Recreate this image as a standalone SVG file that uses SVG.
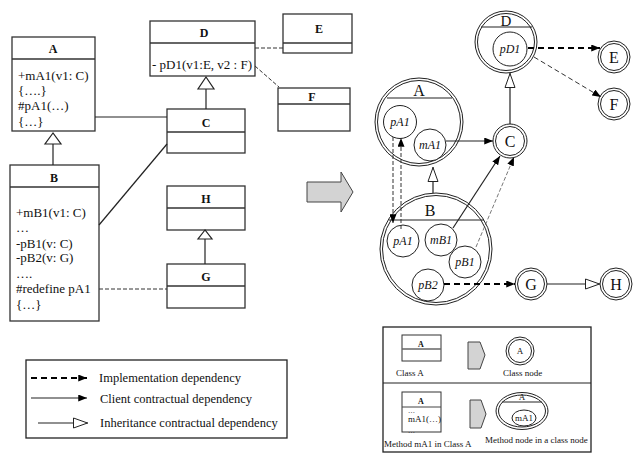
<svg xmlns="http://www.w3.org/2000/svg" width="635" height="462" viewBox="0 0 635 462">
<style>
text{font-family:"Liberation Serif","Times New Roman",serif;fill:#111}
.box{fill:#fff;stroke:#333;stroke-width:1.3}
.dv{stroke:#333;stroke-width:1.3}
.t{font-size:13px}
.b{font-size:12px;font-weight:bold;text-anchor:middle}
.ln{stroke:#222;stroke-width:1.2;fill:none}
.dsh{stroke:#333;stroke-width:1;stroke-dasharray:4 2;fill:none}
.c{fill:#fff;stroke:#222;stroke-width:1}
.cn{fill:none;stroke:#222;stroke-width:1}
.big{font-size:16px;text-anchor:middle}
.it{font-size:12px;font-style:italic;text-anchor:middle}
.impl{stroke:#000;stroke-width:2;stroke-dasharray:6 4;fill:none}
.tri{fill:#fff;stroke:#222;stroke-width:1.2}
.lg{font-size:12.5px}
.sm{font-size:9px}
.gray{fill:#d3d3d3;stroke:#444;stroke-width:1}
</style>
<defs>
<marker id="ah" viewBox="0 0 10 8" refX="10" refY="4" markerWidth="9" markerHeight="7" markerUnits="userSpaceOnUse" orient="auto"><path d="M0,0L10,4L0,8z" fill="#000"/></marker>
<marker id="tri" viewBox="0 0 16 12" refX="15.5" refY="6" markerWidth="16" markerHeight="12" markerUnits="userSpaceOnUse" orient="auto"><path d="M1,1L15,6L1,11z" fill="#fff" stroke="#222"/></marker>
</defs>

<!-- Left UML classes -->
<g id="classA">
<rect class="box" x="12" y="37" width="83" height="94"/>
<line class="dv" x1="12" y1="59" x2="95" y2="59"/>
<text class="b" x="53" y="53">A</text>
<text class="t" x="18" y="80">+mA1(v1: C)</text>
<text class="t" x="18" y="95">{….}</text>
<text class="t" x="18" y="110">#pA1(…)</text>
<text class="t" x="18" y="126">{…}</text>
</g>
<g id="classB">
<rect class="box" x="10" y="165" width="89" height="156"/>
<line class="dv" x1="10" y1="187" x2="99" y2="187"/>
<text class="b" x="54" y="182">B</text>
<text class="t" x="16" y="217">+mB1(v1: C)</text>
<text class="t" x="16" y="232">…</text>
<text class="t" x="16" y="248">-pB1(v: C)</text>
<text class="t" x="16" y="262">-pB2(v: G)</text>
<text class="t" x="16" y="278">….</text>
<text class="t" x="16" y="293">#redefine pA1</text>
<text class="t" x="16" y="309">{…}</text>
</g>
<g id="classC">
<rect class="box" x="167" y="109" width="78" height="44"/>
<line class="dv" x1="167" y1="132" x2="245" y2="132"/>
<text class="b" x="206" y="127">C</text>
</g>
<g id="classD">
<rect class="box" x="150" y="21" width="105" height="55"/>
<line class="dv" x1="150" y1="43" x2="255" y2="43"/>
<text class="b" x="204" y="37">D</text>
<text class="t" x="152" y="69">- pD1(v1:E, v2 : F)</text>
</g>
<g id="classE">
<rect class="box" x="283" y="14" width="69" height="39"/>
<line class="dv" x1="283" y1="43" x2="352" y2="43"/>
<text class="b" x="319" y="33">E</text>
</g>
<g id="classF">
<rect class="box" x="278" y="88" width="72" height="43"/>
<line class="dv" x1="278" y1="104" x2="350" y2="104"/>
<text class="b" x="312" y="101">F</text>
</g>
<g id="classH">
<rect class="box" x="167" y="186" width="78" height="44"/>
<line class="dv" x1="167" y1="208" x2="245" y2="208"/>
<text class="b" x="206" y="203">H</text>
</g>
<g id="classG">
<rect class="box" x="167" y="264" width="78" height="44"/>
<line class="dv" x1="167" y1="286" x2="245" y2="286"/>
<text class="b" x="206" y="281">G</text>
</g>

<!-- Left connectors -->
<g id="uml-connectors">
<line class="ln" x1="95" y1="117" x2="167" y2="117"/>
<line class="ln" x1="99" y1="225" x2="167" y2="144"/>
<line class="dsh" x1="99" y1="289" x2="167" y2="289"/>
<line class="dsh" x1="255" y1="48" x2="283" y2="48"/>
<line class="dsh" x1="255" y1="66" x2="279" y2="87"/>
<line class="ln" x1="206" y1="89" x2="206" y2="109"/>
<polygon class="tri" points="206,77 198,89 214,89"/>
<line class="ln" x1="53" y1="144" x2="53" y2="165"/>
<polygon class="tri" points="53,133 45,144 61,144"/>
<line class="ln" x1="205" y1="239" x2="205" y2="264"/>
<polygon class="tri" points="205,230 198,239 212,239"/>
</g>

<!-- transformation arrow -->
<polygon id="bigArrow" class="gray" points="307,182 341,182 341,172 353,192 341,212 341,202 307,202"/>

<!-- Right graph nodes -->
<g id="nodeD">
<circle class="c" cx="506" cy="42" r="31"/>
<circle class="cn" cx="506" cy="42" r="28.5"/>
<line class="ln" x1="481" y1="27" x2="532" y2="27"/>
<text class="big" x="506" y="26" style="font-size:15px">D</text>
<circle class="c" cx="510" cy="49" r="17"/>
<text class="it" x="510" y="53">pD1</text>
</g>
<g id="nodeE">
<circle class="c" cx="614" cy="57" r="16"/>
<circle class="cn" cx="614" cy="57" r="13.5"/>
<text class="big" x="614" y="63">E</text>
</g>
<g id="nodeF">
<circle class="c" cx="614" cy="104" r="16"/>
<circle class="cn" cx="614" cy="104" r="13.5"/>
<text class="big" x="614" y="110">F</text>
</g>
<g id="nodeA">
<circle class="c" cx="419" cy="122" r="44"/>
<circle class="cn" cx="419" cy="122" r="41.5"/>
<line class="ln" x1="387" y1="98" x2="452" y2="98"/>
<text class="big" x="419" y="96">A</text>
<circle class="c" cx="400" cy="122" r="16.5"/>
<text class="it" x="400" y="126">pA1</text>
<circle class="c" cx="430" cy="145" r="16"/>
<text class="it" x="430" y="149">mA1</text>
</g>
<g id="nodeC">
<circle class="c" cx="510" cy="141" r="17"/>
<circle class="cn" cx="510" cy="141" r="14.5"/>
<text class="big" x="510" y="147">C</text>
</g>
<g id="nodeB">
<circle class="c" cx="436" cy="249" r="56"/>
<circle class="cn" cx="436" cy="249" r="53.5"/>
<line class="ln" x1="389" y1="220" x2="484" y2="220"/>
<text class="big" x="430" y="216">B</text>
<circle class="c" cx="403" cy="241" r="16"/>
<text class="it" x="403" y="245">pA1</text>
<circle class="c" cx="441" cy="240" r="16"/>
<text class="it" x="441" y="244">mB1</text>
<circle class="c" cx="465" cy="262" r="16"/>
<text class="it" x="465" y="266">pB1</text>
<circle class="c" cx="428" cy="285" r="16"/>
<text class="it" x="428" y="289">pB2</text>
</g>
<g id="nodeG">
<circle class="c" cx="531" cy="284" r="16"/>
<circle class="cn" cx="531" cy="284" r="13.5"/>
<text class="big" x="531" y="290">G</text>
</g>
<g id="nodeH">
<circle class="c" cx="616" cy="284" r="16"/>
<circle class="cn" cx="616" cy="284" r="13.5"/>
<text class="big" x="616" y="290">H</text>
</g>

<!-- Right connectors -->
<g id="graph-connectors">
<line class="impl" x1="528" y1="48" x2="600" y2="48" marker-end="url(#ah)"/>
<line class="dsh" x1="534" y1="57" x2="601" y2="97" marker-end="url(#ah)" style="stroke-dasharray:5 3"/>
<line class="ln" x1="510" y1="124" x2="510" y2="73" marker-end="url(#tri)"/>
<line class="ln" x1="446" y1="141" x2="493" y2="141" marker-end="url(#ah)"/>
<line class="ln" x1="433" y1="193" x2="433" y2="167" marker-end="url(#tri)"/>
<line class="dsh" x1="393" y1="137" x2="393" y2="223" marker-end="url(#ah)"/>
<line class="dsh" x1="401" y1="229" x2="401" y2="138" marker-end="url(#ah)"/>
<line class="ln" x1="453" y1="228" x2="500" y2="156" marker-end="url(#ah)"/>
<line class="dsh" x1="476" y1="247" x2="514" y2="157" marker-end="url(#ah)" style="stroke:#555;stroke-width:0.8"/>
<line class="impl" x1="444" y1="284" x2="515" y2="284" marker-end="url(#ah)"/>
<line class="ln" x1="547" y1="284" x2="600" y2="284" marker-end="url(#tri)"/>
</g>

<!-- Left legend -->
<g id="legend-lines">
<rect class="box" x="26" y="360" width="261" height="78" style="stroke:#222"/>
<line class="impl" x1="31" y1="378" x2="87" y2="378" marker-end="url(#ah)"/>
<text class="lg" x="99" y="382">Implementation dependency</text>
<line class="ln" x1="31" y1="398" x2="87" y2="398" marker-end="url(#ah)"/>
<text class="lg" x="100" y="403">Client contractual dependency</text>
<line class="ln" x1="38" y1="423" x2="88" y2="423" marker-end="url(#tri)"/>
<text class="lg" x="100" y="427">Inheritance contractual dependency</text>
</g>

<!-- Right legend -->
<g id="legend-notation">
<rect class="box" x="383" y="327" width="208" height="125" style="stroke:#222"/>
<line class="ln" x1="383" y1="383" x2="591" y2="383"/>
<rect class="box" x="402" y="335" width="39" height="26" style="stroke-width:1"/>
<line x1="402" y1="349" x2="441" y2="349" stroke="#666" stroke-width="1.6"/>
<text class="b" x="421" y="347" style="font-size:8px">A</text>
<text class="sm" x="396" y="376">Class A</text>
<polygon class="gray" points="468,342 480,342 485,355 480,369 468,369"/>
<circle class="c" cx="520" cy="351" r="14"/>
<circle class="cn" cx="520" cy="351" r="11.5"/>
<text class="sm" x="520" y="354" text-anchor="middle">A</text>
<text class="sm" x="503" y="376">Class node</text>

<rect class="box" x="402" y="392" width="39" height="40" style="stroke-width:1"/>
<line x1="402" y1="407" x2="441" y2="407" stroke="#444" stroke-width="1"/>
<text class="b" x="421" y="404" style="font-size:8px">A</text>
<text class="sm" x="408" y="413" style="font-size:7px">…</text>
<text class="sm" x="408" y="422">mA1(…)</text>
<text class="sm" x="408" y="433" style="font-size:7px">…</text>
<text class="sm" x="384" y="447">Method mA1 in Class A</text>
<polygon class="gray" points="470,400 481,400 486,414 481,428 470,428"/>
<ellipse class="c" cx="522" cy="411" rx="26" ry="18.5"/>
<ellipse class="cn" cx="522" cy="411" rx="23.5" ry="16"/>
<line class="ln" x1="502" y1="402" x2="542" y2="402" style="stroke-width:1"/>
<text class="sm" x="522" y="400" text-anchor="middle">A</text>
<ellipse class="c" cx="524" cy="418" rx="12" ry="8"/>
<text class="sm" x="524" y="421" text-anchor="middle">mA1</text>
<text class="sm" x="485" y="443">Method  node in a class node</text>
</g>
</svg>
